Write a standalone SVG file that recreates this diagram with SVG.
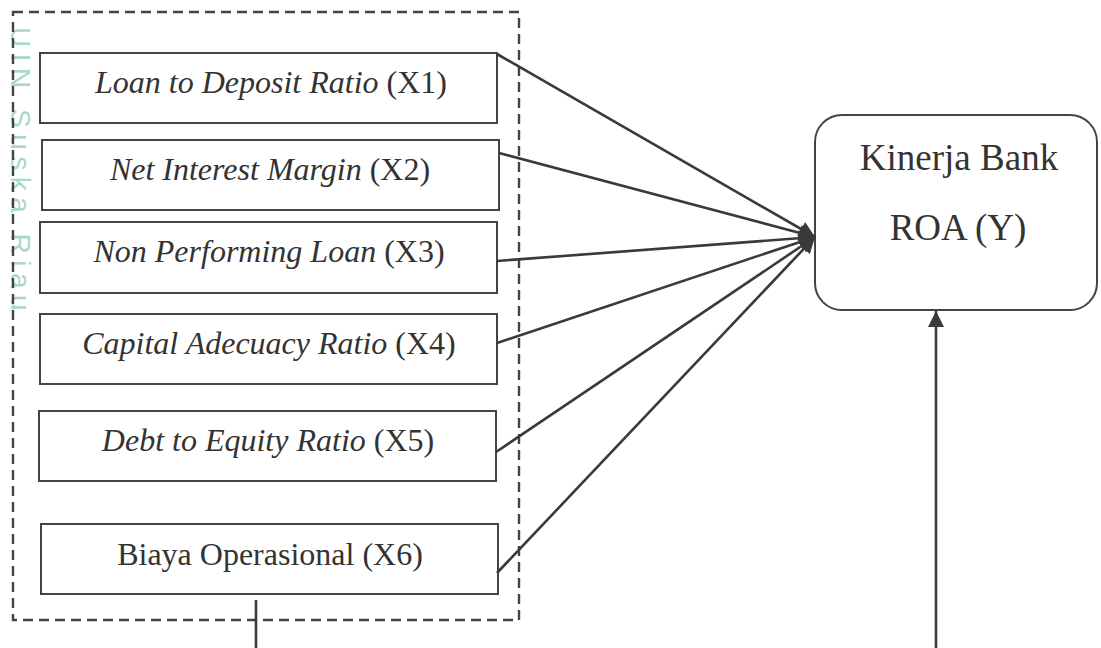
<svg xmlns="http://www.w3.org/2000/svg" width="1101" height="648" viewBox="0 0 1101 648">
  <defs>
    <marker id="arr" markerUnits="userSpaceOnUse" markerWidth="18" markerHeight="16" refX="16" refY="8" orient="auto">
      <path d="M0,0 L16,8 L0,16 Z" fill="#3a3a3a"/>
    </marker>
    <style>
      .box { fill: #fff; stroke: #444; stroke-width: 2; }
      .lbl { font-family: "Liberation Serif", "Times New Roman", serif; font-size: 32px; fill: #333; text-anchor: middle; }
      .big { font-family: "Liberation Serif", "Times New Roman", serif; font-size: 37px; fill: #333; text-anchor: middle; }
      .conn { stroke: #3a3a3a; stroke-width: 2.6; fill: none; }
      .wm { font-family: "Liberation Sans", Arial, sans-serif; font-size: 28px; fill: #a9d8c9; letter-spacing: 6.5px; }
    </style>
  </defs>
  <rect width="1101" height="648" fill="#fff"/>

  <text class="wm" transform="translate(11,27) rotate(90)">UIN Suska Riau</text>

  <g id="group-x">
    <rect x="13" y="12" width="506" height="608" fill="none" stroke="#444" stroke-width="2.4" stroke-dasharray="10,6"/>
  </g>

  <g id="x1">
    <rect class="box" x="40" y="53" width="457" height="70"/>
    <text class="lbl" x="271" y="93"><tspan font-style="italic">Loan to Deposit Ratio</tspan> (X1)</text>
  </g>
  <g id="x2">
    <rect class="box" x="42" y="140" width="457" height="70"/>
    <text class="lbl" x="270" y="180"><tspan font-style="italic">Net Interest Margin</tspan> (X2)</text>
  </g>
  <g id="x3">
    <rect class="box" x="40" y="222" width="457" height="71"/>
    <text class="lbl" x="269" y="262"><tspan font-style="italic">Non Performing Loan</tspan> (X3)</text>
  </g>
  <g id="x4">
    <rect class="box" x="40" y="314" width="457" height="70"/>
    <text class="lbl" x="269" y="354"><tspan font-style="italic">Capital Adecuacy Ratio</tspan> (X4)</text>
  </g>
  <g id="x5">
    <rect class="box" x="39" y="411" width="457" height="70"/>
    <text class="lbl" x="268" y="451"><tspan font-style="italic">Debt to Equity Ratio</tspan> (X5)</text>
  </g>
  <g id="x6">
    <rect class="box" x="41" y="524" width="457" height="70"/>
    <text class="lbl" x="270" y="565">Biaya Operasional (X6)</text>
  </g>

  <g id="y">
    <rect class="box" x="815" y="115" width="282" height="195" rx="27" ry="27"/>
    <text class="big" x="959" y="170">Kinerja Bank</text>
    <text class="big" x="958" y="240">ROA (Y)</text>
  </g>

  <g id="connectors">
    <line class="conn" x1="497" y1="54" x2="815" y2="237" marker-end="url(#arr)"/>
    <line class="conn" x1="499" y1="153" x2="815" y2="237" marker-end="url(#arr)"/>
    <line class="conn" x1="497" y1="261" x2="815" y2="237" marker-end="url(#arr)"/>
    <line class="conn" x1="497" y1="343" x2="815" y2="237" marker-end="url(#arr)"/>
    <line class="conn" x1="496" y1="452" x2="815" y2="237" marker-end="url(#arr)"/>
    <line class="conn" x1="497" y1="573" x2="815" y2="237" marker-end="url(#arr)"/>
    <line class="conn" x1="936" y1="648" x2="936" y2="311" marker-end="url(#arr)"/>
    <line class="conn" x1="256" y1="600" x2="256" y2="648"/>
  </g>
</svg>
